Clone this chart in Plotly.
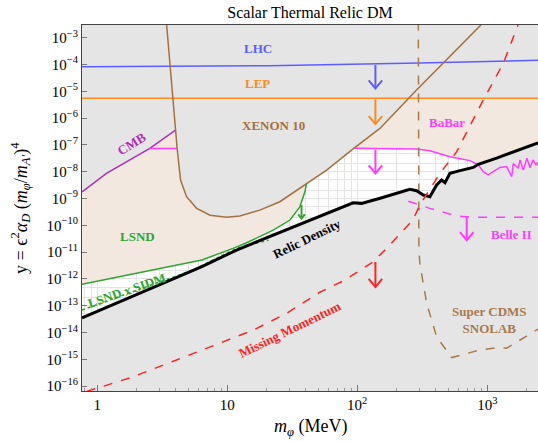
import numpy as np
import plotly.graph_objects as go

# ---------------- data ----------------
x_lim = [0.765, 2455]
y_lim = [10**-16.18, 10**-2.526]

x_tickvals = [1, 10, 100, 1000]
x_ticktext = ["1", "10", "10<sup>2</sup>", "10<sup>3</sup>"]
x_minorvals = [m * 10**k for k in range(-1, 4) for m in range(2, 10)]
y_exponents = list(range(-16, -2))
y_tickvals = [10.0**e for e in y_exponents]
y_ticktext = ["10<sup>\u2212%d</sup>" % (-e) for e in y_exponents]
y_minorvals = [m * 10.0**e for e in range(-17, -2) for m in (2, 5)]

lhc_m = [0.765, 10, 21, 300, 2455]
lhc_y = [8.3e-5, 8.6e-5, 9.0e-5, 1.14e-4, 1.44e-4]

lep_m = [0.765, 2455]
lep_y = [5.5e-6, 5.5e-6]

xenon_m = [3.42, 3.65, 3.87, 4.01, 4.12, 4.2, 4.38, 4.87, 5.82, 7.38, 9.9, 12.5,
           17.8, 25.4, 40.8, 58.2, 93, 150, 286, 487, 906]
xenon_y = [3.2e-3, 9.5e-5, 4.8e-6, 3.6e-7, 7.6e-8, 3.6e-8, 4.9e-9, 1.17e-9, 4.3e-10,
           2.4e-10, 2.0e-10, 2.24e-10, 3.7e-10, 7.6e-10, 3.7e-9, 1.15e-8, 7.1e-8,
           4.2e-7, 1.12e-5, 1.48e-4, 3.2e-3]

cmb_m = [0.765, 1.18, 2.54, 4.01]
cmb_y = [1.78e-9, 8.7e-9, 7.4e-8, 3.6e-7]

babar_left_m = [2.54, 4.12]
babar_left_y = [7.4e-8, 7.4e-8]

babar_m = [93, 286, 362, 516, 736, 853, 932, 1018, 1112, 1253, 1410, 1541, 1585,
           1731, 1785, 1892, 2020, 2130, 2250, 2370, 2455]
babar_y = [7.5e-8, 7.0e-8, 6.1e-8, 3.6e-8, 2.6e-8, 1.8e-8, 1.0e-8, 7.6e-9, 1.0e-8,
           1.45e-8, 1.55e-8, 6.5e-9, 2.0e-8, 1.35e-8, 2.75e-8, 1.15e-8, 3.2e-8,
           1.4e-8, 2.75e-8, 1.8e-8, 2.3e-8]

relic_m = [0.765, 6.39, 11.8, 26.4, 61.7, 93, 108, 150, 254, 286, 322, 362, 408,
           446, 473, 516, 617, 780, 853, 1180, 2455]
relic_y = [3.5e-14, 2.9e-12, 1.2e-11, 5.75e-11, 3.2e-10, 6.9e-10, 6.6e-10, 1.02e-9,
           2.2e-9, 1.95e-9, 1.35e-9, 1.17e-9, 3.2e-9, 4.9e-9, 3.9e-9, 8.7e-9, 1.1e-8,
           1.45e-8, 1.9e-8, 3.2e-8, 1.2e-7]

lsnd_m = [0.765, 6.39, 11.1, 13.7, 22.6, 30.4, 36.2, 39.6, 40.8]
lsnd_y = [6.3e-13, 5.1e-12, 1.38e-11, 2.1e-11, 6.6e-11, 1.58e-10, 4.9e-10, 1.78e-9, 3.7e-9]

sidm_m = [0.765, 5.35, 11.8, 20.8]
sidm_y = [6.9e-14, 2.1e-12, 1.38e-11, 2.8e-11]

missing_m = [0.83, 1.89, 4.03, 8.79, 15.85, 28.6, 51.6, 80.4, 133, 168, 268, 303,
             433, 582, 932, 1328, 1731]
missing_y = [6.3e-17, 2.24e-16, 9.3e-16, 4.0e-15, 1.23e-14, 5.2e-14, 3.2e-13,
             9.1e-13, 4.4e-12, 1.38e-11, 1.58e-10, 5.75e-10, 8.7e-9, 5.6e-8,
             4.8e-6, 1.1e-4, 3.16e-3]

belle_m = [247, 362, 582, 780, 2455]
belle_y = [7.9e-10, 4.3e-10, 2.24e-10, 2.0e-10, 2.0e-10]

cdms_m = [295, 298, 303, 342, 408, 532, 879, 1216, 1410, 2455]
cdms_y = [4e-3, 1.17e-11, 3.8e-12, 1.23e-13, 6.9e-15, 1.17e-15, 2.24e-15, 2.8e-15,
          2.6e-15, 1.35e-14]

# arrows: mass, tail (top), head (bottom)
arrow_mass = [138, 138, 138, 138, 695, 37.3]
arrow_top = [9.5e-5, 5.0e-6, 6.5e-8, 4.3e-12, 2.1e-10, 5.75e-10]
arrow_bottom = [1.29e-5, 6.0e-7, 8.7e-9, 5.0e-13, 2.8e-11, 1.8e-10]

# colours
GRAY = "#e5e5e5"
BEIGE = "#f2e8e0"
C_LHC = "#5d5dff"
C_LEP = "#ff8a1f"
C_XEN = "#a5703d"
C_CMB = "#b22eb8"
C_BAB = "#ff3cff"
C_LSND = "#2ea52e"
C_RED = "#ff2222"
C_CDMS = "#a87a4c"
arrow_color = [C_LHC, C_LEP, C_BAB, C_RED, C_BAB, C_LSND]
arrow_scale = [1, 1, 1, 1, 1, 0.5]

TOP = 10**-2.3
BOT = 10**-16.6
FONT = "Liberation Serif, Times New Roman, DejaVu Serif, serif"

fig = go.Figure()


def fill(xs, ys, color):
    fig.add_trace(go.Scatter(x=xs, y=ys, mode="lines", line=dict(width=0),
                             fill="toself", fillcolor=color, hoverinfo="skip",
                             showlegend=False))


def line(xs, ys, color, width=1.5, dash=None):
    fig.add_trace(go.Scatter(x=xs, y=ys, mode="lines",
                             line=dict(color=color, width=width, dash=dash),
                             hoverinfo="skip", showlegend=False))


# --- beige region: everything above the allowed (white) window ---
xen_mid = [(m, y) for m, y in zip(xenon_m, xenon_y) if 40.8 < m < 93]
low_m = lsnd_m + [p[0] for p in xen_mid] + babar_m
low_y = lsnd_y + [p[1] for p in xen_mid] + babar_y
fill(low_m + [x_lim[1], x_lim[0]], low_y + [TOP, TOP], BEIGE)

# --- gray excluded regions ---
fill(cmb_m + [cmb_m[-1], cmb_m[0]], cmb_y + [TOP, TOP], GRAY)
fill(xenon_m, xenon_y, GRAY)
fill(lep_m + [lep_m[-1], lep_m[0]], lep_y + [TOP, TOP], GRAY)
fill(relic_m + [relic_m[-1], relic_m[0]], relic_y + [BOT, BOT], GRAY)

# --- curves ---
line(lhc_m, lhc_y, C_LHC)
line(lep_m, lep_y, C_LEP)
line(cmb_m, cmb_y, C_CMB)
line(babar_left_m, babar_left_y, C_BAB)
line(babar_m, babar_y, C_BAB)
line(xenon_m, xenon_y, C_XEN)
line(lsnd_m, lsnd_y, C_LSND)
line(sidm_m, sidm_y, C_LSND, 1.5, "dot")
line(belle_m, belle_y, C_BAB, 1.5, "dash")
line(cdms_m, cdms_y, C_CDMS, 1.5, "dash")
line(relic_m, relic_y, "black", 3)
line(missing_m, missing_y, C_RED, 1.5, "dash")

# --- arrows ---
for m, yt, yb, c, s in zip(arrow_mass, arrow_top, arrow_bottom, arrow_color, arrow_scale):
    line([m, m], [yt, yb], c, 2)
    dx = 10 ** (0.052 * s)
    dy = 10 ** (0.30 * s)
    line([m / dx, m, m * dx], [yb * dy, yb, yb * dy], c, 2)

# --- labels ---
labels = [
    ("LHC", 17.2, 10**-3.42, C_LHC, 0),
    ("LEP", 17.2, 10**-4.69, C_LEP, 0),
    ("XENON 10", 22.9, 10**-6.29, C_XEN, 0),
    ("CMB", 1.85, 10**-6.93, C_CMB, -32),
    ("BaBar", 490, 10**-6.18, C_BAB, 0),
    ("LSND", 2.06, 10**-10.41, C_LSND, 0),
    ("LSND x SIDM", 1.69, 10**-12.42, C_LSND, -19),
    ("Relic Density", 41.4, 10**-10.49, "black", -26),
    ("Missing Momentum", 30.4, 10**-13.9, C_RED, -26),
    ("Belle II", 1524, 10**-10.36, C_BAB, 0),
    ("Super CDMS<br>SNOLAB", 1033, 10**-13.54, C_CDMS, 0),
]
for txt, lx, ly, c, ang in labels:
    fig.add_annotation(x=np.log10(lx), y=np.log10(ly), xref="x", yref="y",
                       text="<b>%s</b>" % txt, showarrow=False, textangle=ang,
                       xanchor="center", yanchor="middle",
                       font=dict(family=FONT, size=13, color=c))

fig.add_annotation(xref="paper", yref="paper", x=-0.136, y=0.5,
                   xanchor="center", yanchor="middle",
                   text="y = \u03f5<sup>2</sup><i>\u03b1<sub>D</sub></i> (<i>m<sub>\u03c6</sub></i>/<i>m<sub>A'</sub></i>)<sup>4</sup>",
                   textangle=-90, showarrow=False,
                   font=dict(family=FONT, size=18, color="black"))
fig.add_annotation(xref="paper", yref="paper", x=0.5, y=-0.101,
                   xanchor="center", yanchor="middle",
                   text="<i>m<sub>\u03c6</sub></i> (MeV)", showarrow=False,
                   font=dict(family=FONT, size=18, color="black"))

GRID = "#e4e4e4"
fig.update_layout(
    width=538, height=442,
    margin=dict(l=82, r=0, t=25, b=51, autoexpand=False),
    paper_bgcolor="white", plot_bgcolor="white",
    font=dict(family=FONT),
    title=dict(text="Scalar Thermal Relic DM", x=0.5, xref="paper",
               y=1 - 12 / 442, yref="container", yanchor="middle",
               font=dict(family=FONT, size=16, color="black")),
    xaxis=dict(type="log", range=[np.log10(x_lim[0]), np.log10(x_lim[1])],
               automargin=False,
               tickmode="array", tickvals=x_tickvals, ticktext=x_ticktext,
               ticks="inside", ticklen=6, tickcolor="#777",
               showline=True, mirror=True, linecolor="#444", linewidth=1,
               showgrid=True, gridcolor=GRID, zeroline=False,
               tickfont=dict(family=FONT, size=15, color="black"),
               minor=dict(tickmode="array", tickvals=x_minorvals, ticks="inside",
                          ticklen=3, tickcolor="#999", showgrid=True, gridcolor=GRID)),
    yaxis=dict(type="log", range=[np.log10(y_lim[0]), np.log10(y_lim[1])],
               automargin=False,
               tickmode="array", tickvals=y_tickvals, ticktext=y_ticktext,
               ticks="inside", ticklen=5, tickcolor="#777",
               showline=True, mirror=True, linecolor="#444", linewidth=1,
               showgrid=True, gridcolor=GRID, zeroline=False,
               tickfont=dict(family=FONT, size=15, color="black"),
               minor=dict(tickmode="array", tickvals=y_minorvals, ticks="",
                          showgrid=True, gridcolor=GRID)),
)

fig.write_html("out.html", config={"displayModeBar": False},
               post_script="document.body.style.margin='0px';")
